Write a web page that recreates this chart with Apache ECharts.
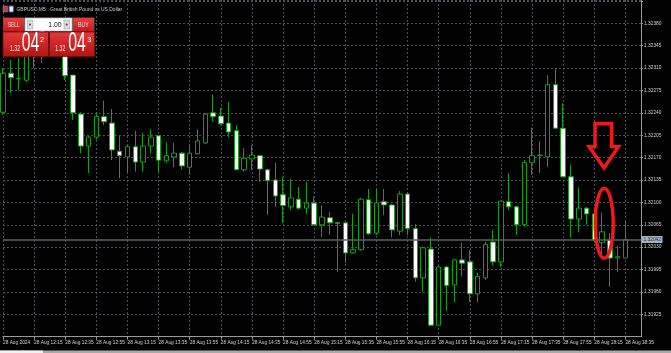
<!DOCTYPE html>
<html><head><meta charset="utf-8">
<script src="https://cdn.jsdelivr.net/npm/echarts@6/dist/echarts.min.js"></script>
<style>html,body{margin:0;padding:0;background:#000;overflow:hidden}#c{width:671px;height:353px;}</style>
</head><body><div id="c"></div>
<script>
// ---- data (GBPUSD M5, 28 Aug 2024) ----
const times = ['11:55','12:00','12:05','12:10','12:15','12:20','12:25','12:30','12:35','12:40','12:45','12:50',
 '12:55','13:00','13:05','13:10','13:15','13:20','13:25','13:30','13:35','13:40','13:45','13:50',
 '13:55','14:00','14:05','14:10','14:15','14:20','14:25','14:30','14:35','14:40','14:45','14:50',
 '14:55','15:00','15:05','15:10','15:15','15:20','15:25','15:30','15:35','15:40','15:45','15:50',
 '15:55','16:00','16:05','16:10','16:15','16:20','16:25','16:30','16:35','16:40','16:45','16:50',
 '16:55','17:00','17:05','17:10','17:15','17:20','17:25','17:30','17:35','17:40','17:45','17:50',
 '17:55','18:00','18:05','18:10','18:15','18:20','18:25','18:30','18:35','18:40','18:45'];
const firstLabel = '28 Aug 2024';
const dayLabel = '28 Aug';
const opens  = [1.32241,1.32302,1.32293,1.32291,1.32338,1.32370,1.32346,1.32362,1.32338,1.32299,
 1.32238,1.32188,1.32202,1.32234,1.32224,1.32180,1.32171,1.32187,1.32163,1.32188,
 1.32204,1.32165,1.32171,1.32177,1.32155,1.32176,1.32193,1.32240,1.32235,1.32224,
 1.32212,1.32151,1.32168,1.32173,1.32151,1.32135,1.32112,1.32093,1.32105,1.32091,
 1.32099,1.32065,1.32076,1.32068,1.32068,1.32021,1.32026,1.32104,1.32052,1.32101,
 1.32096,1.32055,1.32113,1.32059,1.31982,1.32027,1.31908,1.31999,1.31971,1.32010,
 1.32007,1.31957,1.31982,1.32038,1.32007,1.32101,1.32093,1.32065,1.32162,1.32173,
 1.32171,1.32284,1.32216,1.32140,1.32074,1.32091,1.32082,1.32037,1.32041,1.32013,1.32013];
const closes = [1.32302,1.32295,1.32294,1.32354,1.32370,1.32346,1.32362,1.32338,1.32298,1.32240,
 1.32188,1.32202,1.32234,1.32226,1.32182,1.32173,1.32187,1.32163,1.32188,1.32202,
 1.32166,1.32173,1.32177,1.32157,1.32177,1.32196,1.32238,1.32234,1.32223,1.32210,
 1.32151,1.32169,1.32174,1.32152,1.32134,1.32110,1.32095,1.32107,1.32091,1.32099,
 1.32065,1.32077,1.32068,1.32067,1.32021,1.32026,1.32105,1.32051,1.32099,1.32096,
 1.32057,1.32113,1.32059,1.31982,1.32029,1.31908,1.31999,1.31970,1.32010,1.32005,
 1.31957,1.31984,1.32034,1.32007,1.32102,1.32093,1.32065,1.32162,1.32173,1.32174,
 1.32284,1.32216,1.32140,1.32074,1.32091,1.32082,1.32041,1.32054,1.32013,1.32015,1.32042];
const lows   = [1.32237,1.32271,1.32276,1.32288,1.32310,1.32318,1.32335,1.32330,1.32291,1.32229,
 1.32177,1.32146,1.32198,1.32221,1.32166,1.32138,1.32146,1.32148,1.32148,1.32177,
 1.32148,1.32162,1.32155,1.32151,1.32143,1.32176,1.32191,1.32226,1.32221,1.32202,
 1.32151,1.32148,1.32151,1.32132,1.32080,1.32093,1.32068,1.32088,1.32088,1.32082,
 1.32065,1.32046,1.32049,1.31991,1.32005,1.32020,1.32024,1.32049,1.32049,1.32080,
 1.32045,1.32049,1.32049,1.31976,1.31960,1.31908,1.31908,1.31930,1.31944,1.31984,
 1.31944,1.31944,1.31979,1.32002,1.31999,1.32088,1.32049,1.32062,1.32143,1.32146,
 1.32155,1.32216,1.32140,1.32045,1.32054,1.32065,1.32037,1.32015,1.31968,1.31991,1.32012];
const highs  = [1.32310,1.32323,1.32326,1.32362,1.32377,1.32382,1.32373,1.32370,1.32346,1.32299,
 1.32241,1.32204,1.32241,1.32259,1.32246,1.32205,1.32190,1.32212,1.32209,1.32215,
 1.32204,1.32194,1.32193,1.32179,1.32190,1.32215,1.32240,1.32268,1.32248,1.32257,
 1.32221,1.32185,1.32190,1.32174,1.32152,1.32162,1.32140,1.32137,1.32124,1.32132,
 1.32109,1.32096,1.32085,1.32070,1.32068,1.32082,1.32107,1.32121,1.32121,1.32121,
 1.32098,1.32118,1.32115,1.32066,1.32031,1.32045,1.32001,1.32001,1.32012,1.32037,
 1.32026,1.31990,1.32038,1.32057,1.32102,1.32146,1.32095,1.32166,1.32216,1.32196,
 1.32299,1.32309,1.32255,1.32159,1.32123,1.32093,1.32085,1.32084,1.32052,1.32032,1.32070];
const currentPrice = 1.32042;
const titleText = 'GBPUSD,M5:  Great British Pound vs US Dollar';

// ---- font helpers: pick an installed narrow face and size text to the reference widths ----
const mctx = document.createElement('canvas').getContext('2d');
function hasFont(name){
  const s='0123456789 Aug SELL BUY Great';
  mctx.font='40px monospace'; const a=mctx.measureText(s).width;
  mctx.font='40px "'+name+'", monospace'; const b=mctx.measureText(s).width;
  return Math.abs(a-b)>0.5;
}
const F = hasFont('Liberation Sans Narrow') ? '"Liberation Sans Narrow"' :
          (hasFont('Liberation Sans') ? '"Liberation Sans"' : 'sans-serif');
function widthAt(text,size){ mctx.font=size+'px '+F; return mctx.measureText(text).width; }
function sizeFor(text,w){ return 100*w/widthAt(text,100); }
const xLabelSize = Math.min(6, sizeFor('28 Aug 12:15',28.5));
const yLabelSize = Math.min(5.8, sizeFor('1.32380',17.5));
const titleSize  = Math.min(6.5, sizeFor(titleText,106));
const sx = (text,size,w)=> w/widthAt(text,size);

// ---- chart ----
const priceStep = 0.00035, axisMin = 1.31890, axisMax = 1.324164;
const GRID = '#48515a', AX = '#9a9a9a', TXT = '#d0d0d0', GREEN = '#14a014';
const chart = echarts.init(document.getElementById('c'), null, {renderer:'canvas'});
const red = (a,b)=> new echarts.graphic.LinearGradient(0,0,0,1,[{offset:0,color:a},{offset:1,color:b}]);
function T(x,y,text,size,fill,opts){
  opts=opts||{};
  const el={type:'text',x:x,y:y,z:100,silent:true,
    style:{text:text,fontSize:size,fill:fill,fontFamily:F,verticalAlign:'middle',align:opts.align||'left'}};
  if(opts.w){ el.scaleX = sx(text,size,opts.w); }
  return el;
}

chart.setOption({
  animation:false,
  backgroundColor:'#000',
  grid:{left:1.7,right:30,top:0,bottom:16.3,containLabel:false},
  xAxis:{type:'category',data:times,boundaryGap:false,
    axisLine:{show:true,lineStyle:{color:AX,width:1}},
    axisTick:{show:true,interval:3,length:3,lineStyle:{color:AX}},
    axisLabel:{interval:3,align:'left',margin:3,color:TXT,fontSize:xLabelSize,fontFamily:F,
      formatter:(v,i)=> i===0 ? firstLabel : dayLabel+' '+v},
    splitLine:{show:true,interval:3,lineStyle:{color:GRID,type:[2,2],width:1}}},
  yAxis:{type:'value',position:'right',min:axisMin,max:axisMax,interval:priceStep,scale:true,
    axisLine:{show:true,lineStyle:{color:AX}},
    axisTick:{show:true,length:2,lineStyle:{color:AX}},
    axisLabel:{color:TXT,fontSize:yLabelSize,margin:3,fontFamily:F,
      formatter:v=> (v>1.3240 ? '' : v.toFixed(5)),
      showMinLabel:false,showMaxLabel:false},
    splitLine:{show:true,lineStyle:{color:GRID,type:[2,2],width:1}}},
  series:[{type:'candlestick',clip:false,barWidth:5,
    data:opens.map((o,i)=>[o,closes[i],lows[i],highs[i]]),
    itemStyle:{color:'#000',color0:'#fff',borderColor:GREEN,borderColor0:GREEN,borderWidth:1},
    markLine:{silent:true,symbol:'none',animation:false,precision:5,
      lineStyle:{color:'#5c6269',width:1.6,type:'solid'},
      label:{position:'end',distance:1,formatter:p=>Number(p.value).toFixed(5),color:'#1e252d',
        backgroundColor:'#a7b3c2',fontSize:yLabelSize,fontFamily:F,padding:[1,1.5]},
      data:[{yAxis:currentPrice}]}}],
  graphic:[
    // title
    {type:'rect',z:100,silent:true,shape:{x:3,y:6,width:4.5,height:6},style:{fill:'#c83a3a',stroke:'#6a86c8',lineWidth:0.6}},
    {type:'rect',z:100,silent:true,shape:{x:9,y:6,width:4.5,height:6},style:{fill:'#e8e8f0',stroke:'#3a5fb0',lineWidth:1}},
    T(16.5,9.6,titleText,titleSize,'#c8c8c8'),
    // one-click panel top row
    {type:'rect',z:100,silent:true,shape:{x:3,y:17.5,width:91.5,height:14},style:{fill:'#5a5a5a'}},
    {type:'rect',z:100,silent:true,shape:{x:3.5,y:18,width:20.5,height:13},style:{fill:red('#e84040','#c41a1a')}},
    T(13.7,24.8,'SELL',6.5,'#ffd8d8',{align:'center',w:11.5}),
    {type:'rect',z:100,silent:true,shape:{x:25,y:18,width:47,height:13},style:{fill:'#ffffff',stroke:'#9a9a9a',lineWidth:0.6}},
    {type:'rect',z:100,silent:true,shape:{x:27.3,y:20,width:5.5,height:9},style:{fill:'#dcdcdc',stroke:'#a0a0a0',lineWidth:0.6}},
    {type:'rect',z:100,silent:true,shape:{x:64,y:20,width:5.5,height:9},style:{fill:'#dcdcdc',stroke:'#a0a0a0',lineWidth:0.6}},
    {type:'circle',z:100,silent:true,shape:{cx:30,cy:24.5,r:0.9},style:{fill:'#333'}},
    {type:'circle',z:100,silent:true,shape:{cx:66.7,cy:24.5,r:0.9},style:{fill:'#333'}},
    T(48.3,24.8,'1.00',7,'#222',{w:13.4}),
    {type:'rect',z:100,silent:true,shape:{x:73.5,y:18,width:20.5,height:13},style:{fill:red('#e84040','#c41a1a')}},
    T(83.3,24.8,'BUY',6.5,'#ffd8d8',{align:'center',w:10.6}),
    // big price buttons
    {type:'rect',z:100,silent:true,shape:{x:3,y:32,width:45.5,height:24.5},style:{fill:red('#e23a3a','#b41212'),stroke:'#7a0a0a',lineWidth:0.8}},
    {type:'rect',z:100,silent:true,shape:{x:49.5,y:32,width:45,height:24.5},style:{fill:red('#e23a3a','#b41212'),stroke:'#7a0a0a',lineWidth:0.8}},
    T(10,48.6,'1.32',8.5,'#ffe8e8',{w:10}),
    T(21.7,43.5,'04',27,'#ffffff',{w:17.6}),
    T(40,39.6,'2',7.5,'#ffffff',{w:4}),
    T(55.3,48.6,'1.32',8.5,'#ffe8e8',{w:10}),
    T(68.3,43.5,'04',27,'#ffffff',{w:17.6}),
    T(87.3,39.6,'3',7.5,'#ffffff',{w:4}),
    // red annotations
    {type:'polygon',z:100,silent:true,shape:{points:[[595,123.5],[611.5,123.5],[611.5,146.5],[618.5,146.5],[604,168],[589,146.5],[595,146.5]]},
      style:{fill:null,stroke:'#f21818',lineWidth:3.5,lineJoin:'miter'}},
    {type:'ellipse',z:100,silent:true,shape:{cx:604.2,cy:223.3,rx:9,ry:35},style:{fill:null,stroke:'#f21818',lineWidth:3.5}},
    // bottom tab strip
    {type:'rect',z:100,silent:true,shape:{x:0,y:350.5,width:671,height:3},style:{fill:'#a9a9a9'}},
    {type:'rect',z:100,silent:true,shape:{x:0,y:350.5,width:43,height:3},style:{fill:'#f0f0f0'}}
  ]
});
</script></body></html>
